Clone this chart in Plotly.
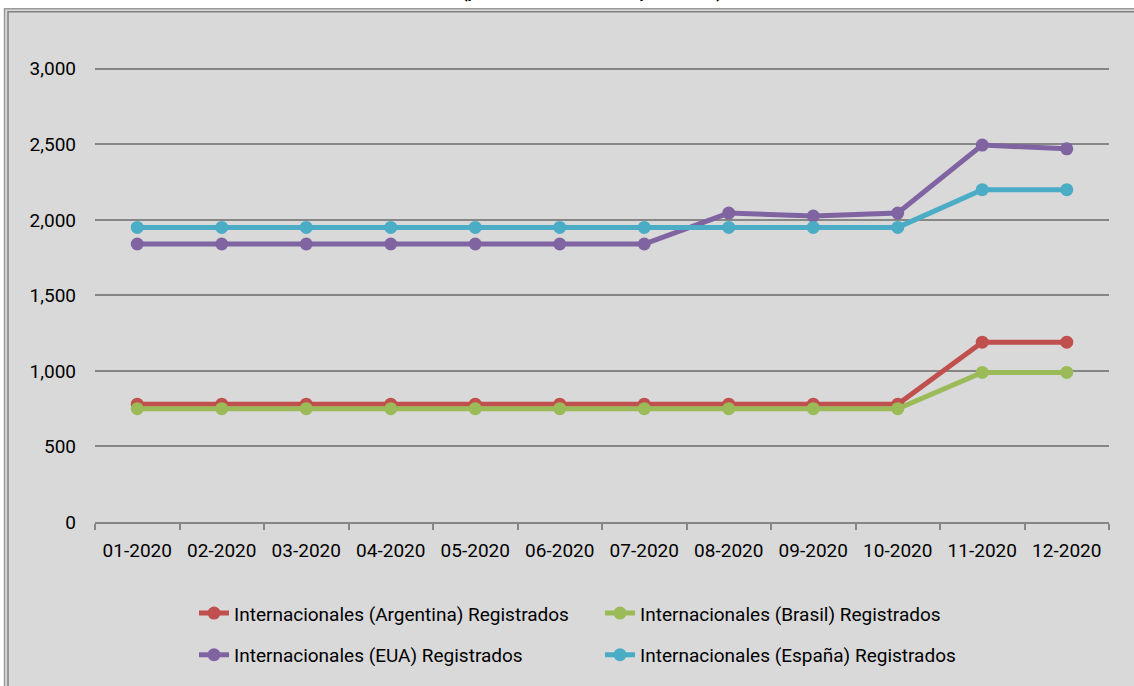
import plotly.graph_objects as go

# Months shown on the category axis
months = ["01-2020", "02-2020", "03-2020", "04-2020", "05-2020", "06-2020",
          "07-2020", "08-2020", "09-2020", "10-2020", "11-2020", "12-2020"]

# Registered values per series
argentina = [780, 780, 780, 780, 780, 780, 780, 780, 780, 780, 1190, 1190]
brasil = [750, 750, 750, 750, 750, 750, 750, 750, 750, 750, 990, 990]
eua = [1840, 1840, 1840, 1840, 1840, 1840, 1840, 2045, 2025, 2045, 2495, 2470]
espana = [1950, 1950, 1950, 1950, 1950, 1950, 1950, 1950, 1950, 1950, 2200, 2200]

y_ticks = [0, 500, 1000, 1500, 2000, 2500, 3000]

series_names = [
    "Internacionales (Argentina) Registrados",
    "Internacionales (Brasil) Registrados",
    "Internacionales (EUA) Registrados",
    "Internacionales (España) Registrados",
]

W, H = 1134, 686
M_L, M_R, M_T, M_B = 95, 25, 31, 160


def px_x(px):
    # pixel column -> paper x
    return (px - M_L) / (W - M_L - M_R)


def px_y(py):
    # pixel row -> paper y
    return (H - M_B - py) / (H - M_T - M_B)


def main():
    font = "Roboto, Liberation Sans, sans-serif"
    colors = ["#C0504D", "#9BBB59", "#8064A2", "#4BACC6"]
    values = [argentina, brasil, eua, espana]
    legends = ["legend", "legend", "legend2", "legend2"]

    fig = go.Figure()
    for name, vals, col, leg in zip(series_names, values, colors, legends):
        fig.add_trace(go.Scatter(
            x=months, y=vals, name=name, mode="lines+markers",
            line=dict(color=col, width=5),
            marker=dict(color=col, size=13),
            legend=leg,
        ))

    # Chart area background with Excel-like double border
    shapes = [
        dict(type="rect", xref="paper", yref="paper", layer="below",
             x0=px_x(4.5), x1=px_x(1145), y0=px_y(695), y1=px_y(8.5),
             fillcolor="#D9D9D9", line=dict(color="#9A9A9A", width=1.5)),
        dict(type="rect", xref="paper", yref="paper", layer="below",
             x0=px_x(8), x1=px_x(1145), y0=px_y(695), y1=px_y(11.5),
             line=dict(color="#808080", width=1.5)),
    ]

    leg_common = dict(orientation="h", xanchor="left", yanchor="middle",
                      bgcolor="rgba(0,0,0,0)", font=dict(family=font, size=19, color="#000000"),
                      entrywidthmode="pixels", entrywidth=361, traceorder="normal")

    fig.update_layout(
        width=W, height=H,
        margin=dict(l=M_L, r=M_R, t=M_T, b=M_B),
        paper_bgcolor="#FFFFFF",
        plot_bgcolor="rgba(0,0,0,0)",
        font=dict(family=font, size=19, color="#000000"),
        shapes=shapes,
        xaxis=dict(
            type="category", range=[-0.5, 11.5],
            showgrid=False, showline=True, linecolor="#868686", linewidth=1.5,
            ticks="outside", tickson="boundaries", ticklen=6, tickcolor="#868686", tickwidth=1.5,
            ticklabelstandoff=10,
        ),
        yaxis=dict(
            range=[0, 3250], tickvals=y_ticks, tickformat=",",
            showgrid=True, gridcolor="#868686", gridwidth=1.5,
            zeroline=False, showline=False, ticks="",
            ticklabelstandoff=18,
        ),
        legend=dict(x=px_x(194), y=px_y(618), **leg_common),
        legend2=dict(x=px_x(194), y=px_y(660), **leg_common),
        annotations=[dict(
            text="<b>Tarifas internacionales<br>(precios internacionales por unidad)</b>",
            xref="paper", yref="paper", x=px_x(592), y=px_y(3),
            xanchor="center", yanchor="bottom", showarrow=False, borderpad=0,
            font=dict(family=font, size=16, color="#000000"),
        )],
        showlegend=True,
    )

    # drop the default page margin so the figure sits at the window corner
    fig.write_html("out.html", config={"displayModeBar": False},
                   post_script="document.body.style.margin='0';")


if __name__ == "__main__": main()
